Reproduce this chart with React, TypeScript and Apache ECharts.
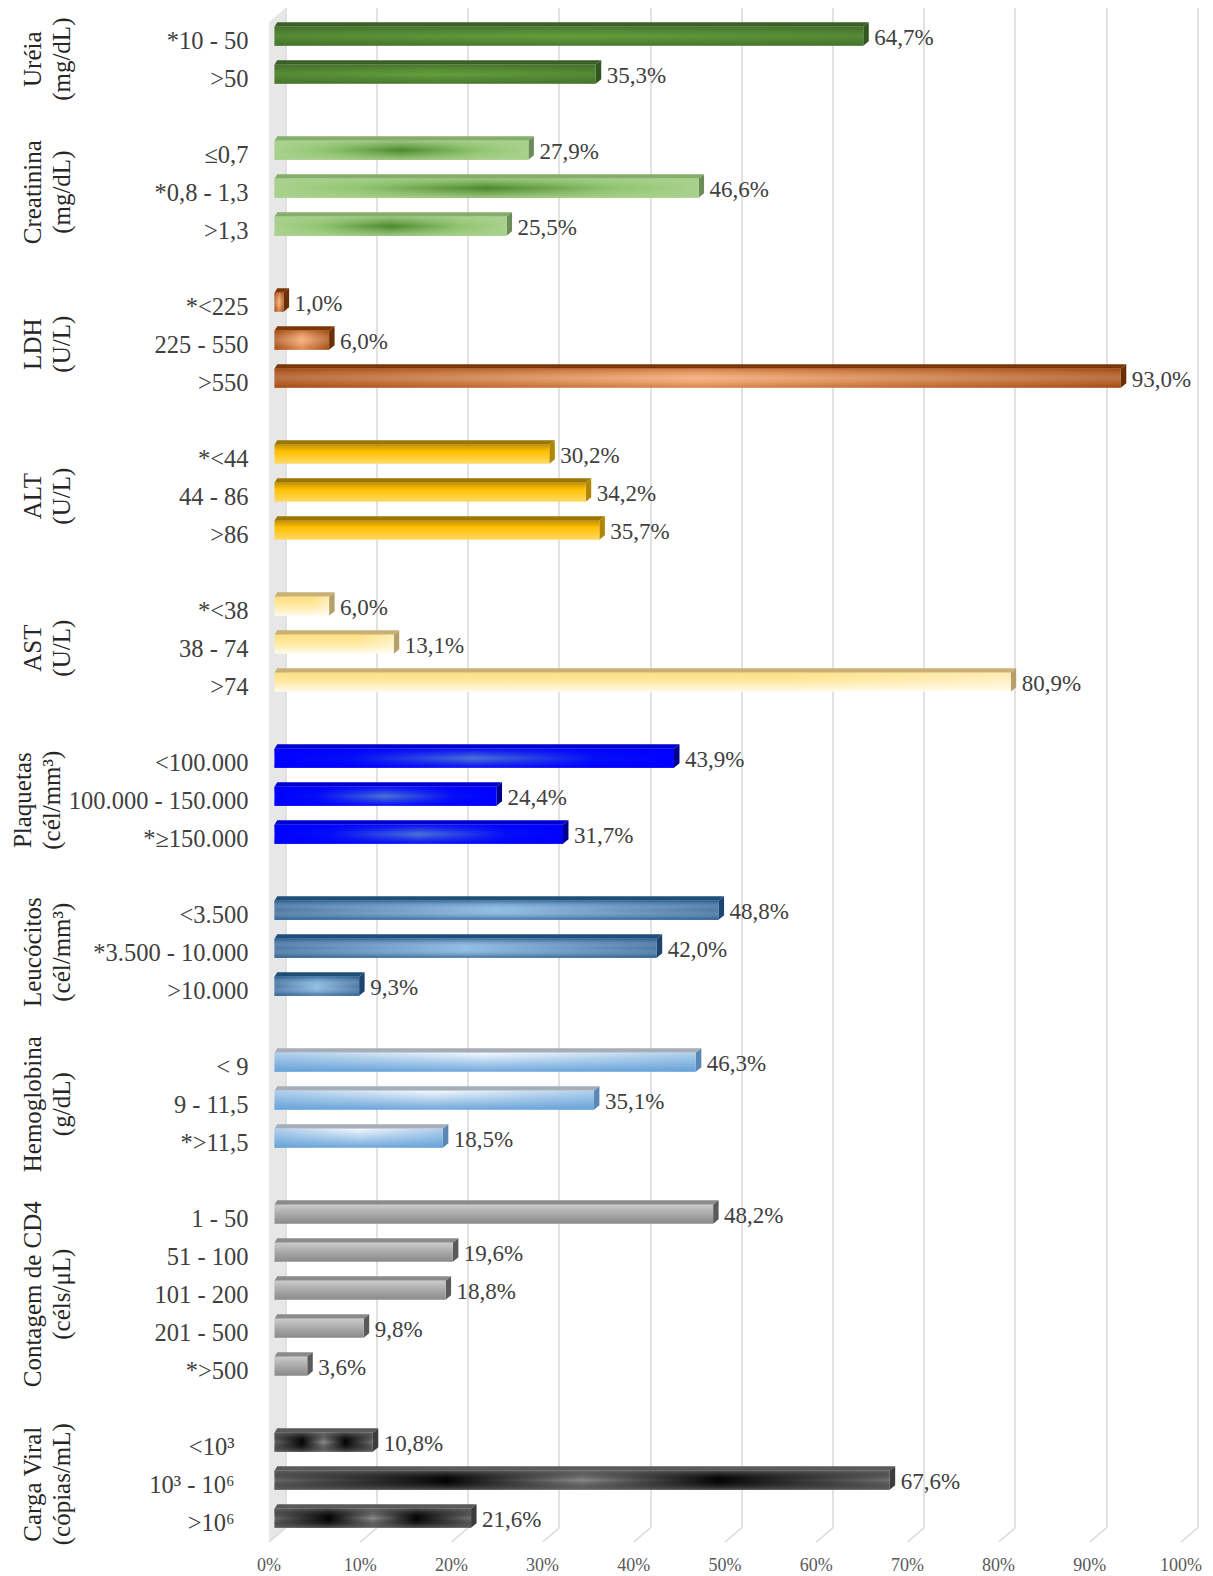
import React, { useEffect, useRef } from "react";
import * as echarts from "echarts";

// ---------------- DATA ----------------
const groupNames = [
  "Uréia\n(mg/dL)",
  "Creatinina\n(mg/dL)",
  "LDH\n(U/L)",
  "ALT\n(U/L)",
  "AST\n(U/L)",
  "Plaquetas\n(cél/mm³)",
  "Leucócitos\n(cél/mm³)",
  "Hemoglobina\n(g/dL)",
  "Contagem de CD4\n(céls/μL)",
  "Carga Viral\n(cópias/mL)",
];

const ureiaCats = ["*10 - 50", ">50"];
const ureiaVals = [64.7, 35.3];
const creatCats = ["≤0,7", "*0,8 - 1,3", ">1,3"];
const creatVals = [27.9, 46.6, 25.5];
const ldhCats = ["*<225", "225 - 550", ">550"];
const ldhVals = [1.0, 6.0, 93.0];
const altCats = ["*<44", "44 - 86", ">86"];
const altVals = [30.2, 34.2, 35.7];
const astCats = ["*<38", "38 - 74", ">74"];
const astVals = [6.0, 13.1, 80.9];
const plaqCats = ["<100.000", "100.000 - 150.000", "*≥150.000"];
const plaqVals = [43.9, 24.4, 31.7];
const leucCats = ["<3.500", "*3.500 - 10.000", ">10.000"];
const leucVals = [48.8, 42.0, 9.3];
const hemoCats = ["< 9", "9 - 11,5", "*>11,5"];
const hemoVals = [46.3, 35.1, 18.5];
const cd4Cats = ["1 - 50", "51 - 100", "101 - 200", "201 - 500", "*>500"];
const cd4Vals = [48.2, 19.6, 18.8, 9.8, 3.6];
const cvCats = ["<10³", "10³ - 10⁶", ">10⁶"];
const cvVals = [10.8, 67.6, 21.6];

const groupCategories = [ureiaCats, creatCats, ldhCats, altCats, astCats, plaqCats, leucCats, hemoCats, cd4Cats, cvCats];
const groupValues = [ureiaVals, creatVals, ldhVals, altVals, astVals, plaqVals, leucVals, hemoVals, cd4Vals, cvVals];

const xTicks = [0, 10, 20, 30, 40, 50, 60, 70, 80, 90, 100];

// ---------------- STYLES ----------------
const FONT = '"Liberation Serif", "Times New Roman", serif';

type Stop = [number, string];
type Grad = { dir: "h" | "v"; stops: Stop[] };
type GStyle = { front: Grad; overlay?: Grad; top: string; side: string };

const groupStyles: GStyle[] = [
  {
    front: { dir: "v", stops: [[0, "#4a792e"], [0.5, "#62a03c"], [1, "#4a792e"]] },
    overlay: { dir: "h", stops: [[0, "rgba(60,100,40,0.35)"], [0.5, "rgba(60,100,40,0)"], [1, "rgba(60,100,40,0.35)"]] },
    top: "#3b5f26", side: "#33551f",
  },
  {
    front: { dir: "h", stops: [[0, "#a9d18e"], [0.2, "#8fc46e"], [0.5, "#4b872b"], [0.8, "#8fc46e"], [1, "#a9d18e"]] },
    overlay: { dir: "v", stops: [[0, "rgba(169,209,142,0.85)"], [0.5, "rgba(169,209,142,0)"], [1, "rgba(169,209,142,0.85)"]] },
    top: "#86ae6b", side: "#6c8d56",
  },
  {
    front: { dir: "h", stops: [[0, "#a3470e"], [0.5, "#f4a46b"], [1, "#a3470e"]] },
    overlay: { dir: "v", stops: [[0, "rgba(170,75,15,0.45)"], [0.5, "rgba(255,235,215,0.25)"], [1, "rgba(170,75,15,0.35)"]] },
    top: "#7b3607", side: "#6a2f06",
  },
  {
    front: { dir: "v", stops: [[0, "#c29100"], [0.35, "#ffc000"], [1, "#ffd966"]] },
    top: "#9b7600", side: "#b08700",
  },
  {
    front: { dir: "v", stops: [[0, "#ffdf7e"], [0.5, "#ffeaa6"], [1, "#fffbec"]] },
    overlay: { dir: "h", stops: [[0, "rgba(255,255,255,0)"], [0.7, "rgba(255,255,255,0)"], [1, "rgba(255,255,255,0.4)"]] },
    top: "#c9b075", side: "#b5a069",
  },
  {
    front: { dir: "h", stops: [[0, "#0000ff"], [0.2, "#0610f6"], [0.5, "#4a74d2"], [0.8, "#0610f6"], [1, "#0000ff"]] },
    overlay: { dir: "v", stops: [[0, "rgba(0,0,255,0.9)"], [0.5, "rgba(0,0,255,0)"], [1, "rgba(0,0,255,0.9)"]] },
    top: "#0000cf", side: "#00008c",
  },
  {
    front: { dir: "h", stops: [[0, "#2b6094"], [0.5, "#7ab2e2"], [1, "#2b6094"]] },
    overlay: { dir: "v", stops: [[0, "rgba(40,92,142,0.75)"], [0.5, "rgba(255,255,255,0.15)"], [1, "rgba(40,92,142,0.75)"]] },
    top: "#1f4e79", side: "#1b4570",
  },
  {
    front: { dir: "v", stops: [[0, "#f4f9fe"], [0.35, "#c6ddf2"], [1, "#6fa7dc"]] },
    overlay: { dir: "h", stops: [[0, "rgba(91,155,213,0.45)"], [0.5, "rgba(91,155,213,0)"], [1, "rgba(91,155,213,0.45)"]] },
    top: "#a5adb6", side: "#5b87b5",
  },
  {
    front: { dir: "v", stops: [[0, "#cbcbcb"], [0.5, "#a8a8a8"], [1, "#8a8a8a"]] },
    top: "#8b8b8b", side: "#5a5a5a",
  },
  {
    front: { dir: "h", stops: [[0, "#6a6a6a"], [0.28, "#050505"], [0.5, "#8c8c8c"], [0.72, "#050505"], [1, "#727272"]] },
    overlay: { dir: "v", stops: [[0, "rgba(95,95,95,0.85)"], [0.5, "rgba(0,0,0,0)"], [1, "rgba(95,95,95,0.85)"]] },
    top: "#5a5a5a", side: "#3c3c3c",
  },
];

// ---------------- LAYOUT CONSTANTS ----------------
const BACK_LEFT = 285.5;
const BACK_TOP = 8;
const BACK_BOTTOM = 1528;
const AXIS_W = 912;
const FLOOR_DX = 16.5;
const FLOOR_DY = 14;
const BAR_LEFT = 274.5;
const BAR_W = 910;
const BAR_TOP = 17.2;
const BAR_H = 1520;
const FACE_H = 19;
const DEPTH_X = 5.5;
const DEPTH_Y = 4.5;
const GROUP_X = 47;
const GROUP_X_SHIFT = [0, 0, 0, 0, 0, -10, 0, 0, 0, 0];

// ---------------- BUILD ROWS ----------------
const rowLabels: string[] = [];
const barData: number[][] = [];
const groupSpans: number[][] = [];
groupNames.forEach((_, gi) => {
  if (gi > 0) rowLabels.push("");
  const s = rowLabels.length;
  groupCategories[gi].forEach((c, ci) => {
    barData.push([groupValues[gi][ci], rowLabels.length, gi]);
    rowLabels.push(c);
  });
  groupSpans.push([0, s, rowLabels.length - 1, gi]);
});

function makeGrad(g: Grad) {
  const colorStops = g.stops.map(([offset, color]) => ({ offset, color }));
  return g.dir === "h"
    ? new echarts.graphic.LinearGradient(0, 0, 1, 0, colorStops)
    : new echarts.graphic.LinearGradient(0, 0, 0, 1, colorStops);
}

const fmt = (v: number) => v.toFixed(1).replace(".", ",") + "%";

export default function App() {
  const ref = useRef<HTMLDivElement>(null);
  useEffect(() => {
    document.body.style.margin = "0";
    const chart = echarts.init(ref.current!, null, { renderer: "svg" });
    const option: any = {
      animation: false,
      backgroundColor: "#ffffff",
      textStyle: { fontFamily: FONT },
      graphic: [
        {
          type: "polygon",
          z: 0,
          shape: {
            points: [
              [BACK_LEFT - FLOOR_DX, BACK_TOP + FLOOR_DY],
              [BACK_LEFT, BACK_TOP],
              [BACK_LEFT, BACK_BOTTOM],
              [BACK_LEFT - FLOOR_DX, BACK_BOTTOM + FLOOR_DY],
            ],
          },
          style: { fill: "#e7e7e7" },
        },
      ],
      grid: [
        { left: BACK_LEFT, top: BACK_TOP, width: AXIS_W, height: BACK_BOTTOM - BACK_TOP },
        { left: BAR_LEFT, top: BAR_TOP, width: BAR_W, height: BAR_H },
        { left: BACK_LEFT - FLOOR_DX, top: BACK_BOTTOM, width: AXIS_W, height: FLOOR_DY },
      ],
      xAxis: [
        {
          gridIndex: 0, type: "value", min: 0, max: 100, interval: 10,
          axisLabel: { show: false }, axisLine: { show: false }, axisTick: { show: false },
          splitLine: { show: true, lineStyle: { color: "#d9d9d9", width: 1.5 } },
        },
        {
          gridIndex: 1, type: "value", min: 0, max: 100, interval: 10, show: false,
        },
        {
          gridIndex: 2, type: "value", min: 0, max: 100, interval: 10, position: "bottom",
          axisLine: { show: false }, axisTick: { show: false }, splitLine: { show: false },
          axisLabel: { formatter: "{value}%", color: "#595959", fontSize: 18, fontFamily: FONT, margin: 14 },
        },
      ],
      yAxis: [
        { gridIndex: 0, type: "value", min: 0, max: 1, show: false },
        {
          gridIndex: 1, type: "category", inverse: true, data: rowLabels,
          axisLine: { show: false }, axisTick: { show: false }, splitLine: { show: false },
          axisLabel: {
            interval: 0, margin: 26, color: "#404040", fontSize: 24.5, fontFamily: FONT,
            verticalAlign: "top", lineHeight: 9,
            formatter: (val: string) => (cvCats.indexOf(val) >= 0 ? `{cv|${val}}` : val),
            rich: {
              cv: {
                color: "#404040", fontSize: 24.5, fontFamily: FONT, lineHeight: 9,
                padding: [0, 14, 0, 0],
              },
            },
          },
        },
        { gridIndex: 2, type: "value", min: 0, max: 1, show: false },
      ],
      series: [
        {
          type: "custom",
          name: "floor",
          xAxisIndex: 2, yAxisIndex: 2,
          clip: false, silent: true,
          data: xTicks.map((v) => [v, 0]),
          renderItem: (params: any, api: any) => {
            const p = api.coord([api.value(0), 0]);
            return {
              type: "line",
              shape: { x1: p[0], y1: p[1], x2: p[0] + FLOOR_DX, y2: p[1] - FLOOR_DY },
              style: { stroke: "#d9d9d9", lineWidth: 1.5 },
            };
          },
        },
        {
          type: "custom",
          name: "bars",
          xAxisIndex: 1, yAxisIndex: 1,
          clip: false, silent: true,
          encode: { x: 0, y: 1 },
          data: barData,
          z: 5,
          renderItem: (params: any, api: any) => {
            const v = api.value(0);
            const row = api.value(1);
            const gi = api.value(2);
            const st = groupStyles[gi];
            const p0 = api.coord([0, row]);
            const p1 = api.coord([v, row]);
            const x0 = p0[0];
            const x1 = p1[0];
            const yc = p1[1];
            const yt = yc - FACE_H / 2;
            const yb = yc + FACE_H / 2;
            const children: any[] = [
              {
                type: "polygon",
                shape: { points: [[x0, yt], [x1, yt], [x1 + DEPTH_X, yt - DEPTH_Y], [x0 + DEPTH_X * 0.5, yt - DEPTH_Y]] },
                style: { fill: st.top },
              },
              {
                type: "polygon",
                shape: { points: [[x1, yt], [x1 + DEPTH_X, yt - DEPTH_Y], [x1 + DEPTH_X, yb - DEPTH_Y], [x1, yb]] },
                style: { fill: st.side },
              },
              {
                type: "rect",
                shape: { x: x0, y: yt, width: Math.max(x1 - x0, 0.5), height: FACE_H },
                style: { fill: makeGrad(st.front) },
              },
            ];
            if (st.overlay) {
              children.push({
                type: "rect",
                shape: { x: x0, y: yt, width: Math.max(x1 - x0, 0.5), height: FACE_H },
                style: { fill: makeGrad(st.overlay) },
              });
            }
            children.push({
              type: "text",
              style: {
                x: x1 + 11,
                y: yc + 1,
                text: fmt(v),
                fill: "#404040",
                fontSize: 23,
                fontFamily: FONT,
                align: "left",
                verticalAlign: "middle",
              },
            });
            return { type: "group", children };
          },
        },
        {
          type: "custom",
          name: "groups",
          xAxisIndex: 1, yAxisIndex: 1,
          clip: false, silent: true,
          encode: { x: 0, y: 1 },
          data: groupSpans,
          renderItem: (params: any, api: any) => {
            const s = api.value(1);
            const e = api.value(2);
            const gi = api.value(3);
            const ys = api.coord([0, s])[1];
            const ye = api.coord([0, e])[1];
            return {
              type: "text",
              x: GROUP_X + GROUP_X_SHIFT[gi],
              y: (ys + ye) / 2 + 4,
              rotation: Math.PI / 2,
              style: {
                text: groupNames[gi],
                fill: "#262626",
                fontSize: 25,
                fontFamily: FONT,
                lineHeight: 29,
                align: "center",
                verticalAlign: "middle",
              },
            };
          },
        },
      ],
    };
    chart.setOption(option);
    return () => chart.dispose();
  }, []);
  return <div ref={ref} style={{ width: 1213, height: 1576 }} />;
}
